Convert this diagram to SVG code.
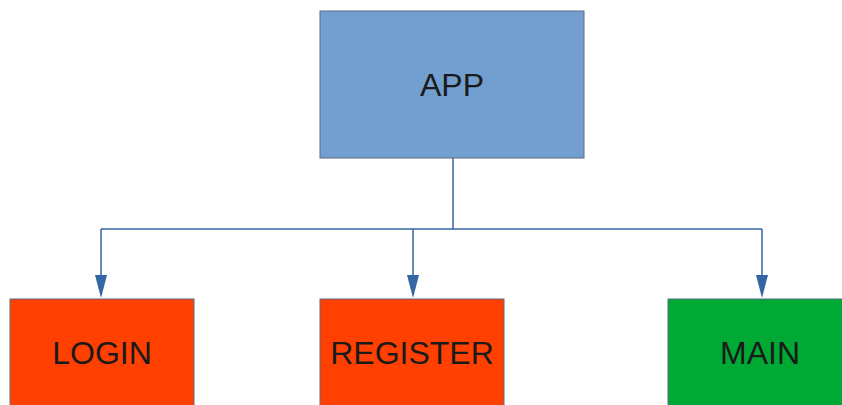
<svg xmlns="http://www.w3.org/2000/svg" width="842" height="405" viewBox="0 0 842 405">
  <style>
    .box { stroke: #5b6b80; stroke-width: 1; }
    .label { font-family: "Liberation Sans", Arial, sans-serif; font-size: 32px; fill: #1a1a1a; text-anchor: middle; dominant-baseline: central; }
    .wire { fill: none; stroke: #3465a4; stroke-width: 1.5; }
    .head { fill: #3465a4; }
  </style>

  <rect width="842" height="405" fill="#ffffff"/>

  <!-- trunk from APP, shared bus, and three drops with arrowheads -->
  <g id="connectors">
    <path class="wire" d="M453,158 V229"/>
    <path class="wire" d="M101,229 H762"/>
    <path class="wire" d="M101,229 V276"/>
    <path class="wire" d="M413,229 V276"/>
    <path class="wire" d="M762,229 V276"/>
    <polygon class="head" points="95,275 107,275 101,298"/>
    <polygon class="head" points="407,275 419,275 413,298"/>
    <polygon class="head" points="756,275 768,275 762,298"/>
  </g>

  <g id="app">
    <rect class="box" x="320" y="11" width="264" height="147" fill="#729fcf"/>
    <text class="label" x="452" y="85">APP</text>
  </g>

  <g id="login">
    <rect class="box" x="10" y="299" width="184" height="120" fill="#ff4000"/>
    <text class="label" x="102" y="353">LOGIN</text>
  </g>

  <g id="register">
    <rect class="box" x="320" y="299" width="184" height="120" fill="#ff4000"/>
    <text class="label" x="412" y="353">REGISTER</text>
  </g>

  <g id="main">
    <rect class="box" x="668" y="299" width="184" height="120" fill="#00a933"/>
    <text class="label" x="760" y="353">MAIN</text>
  </g>
</svg>
